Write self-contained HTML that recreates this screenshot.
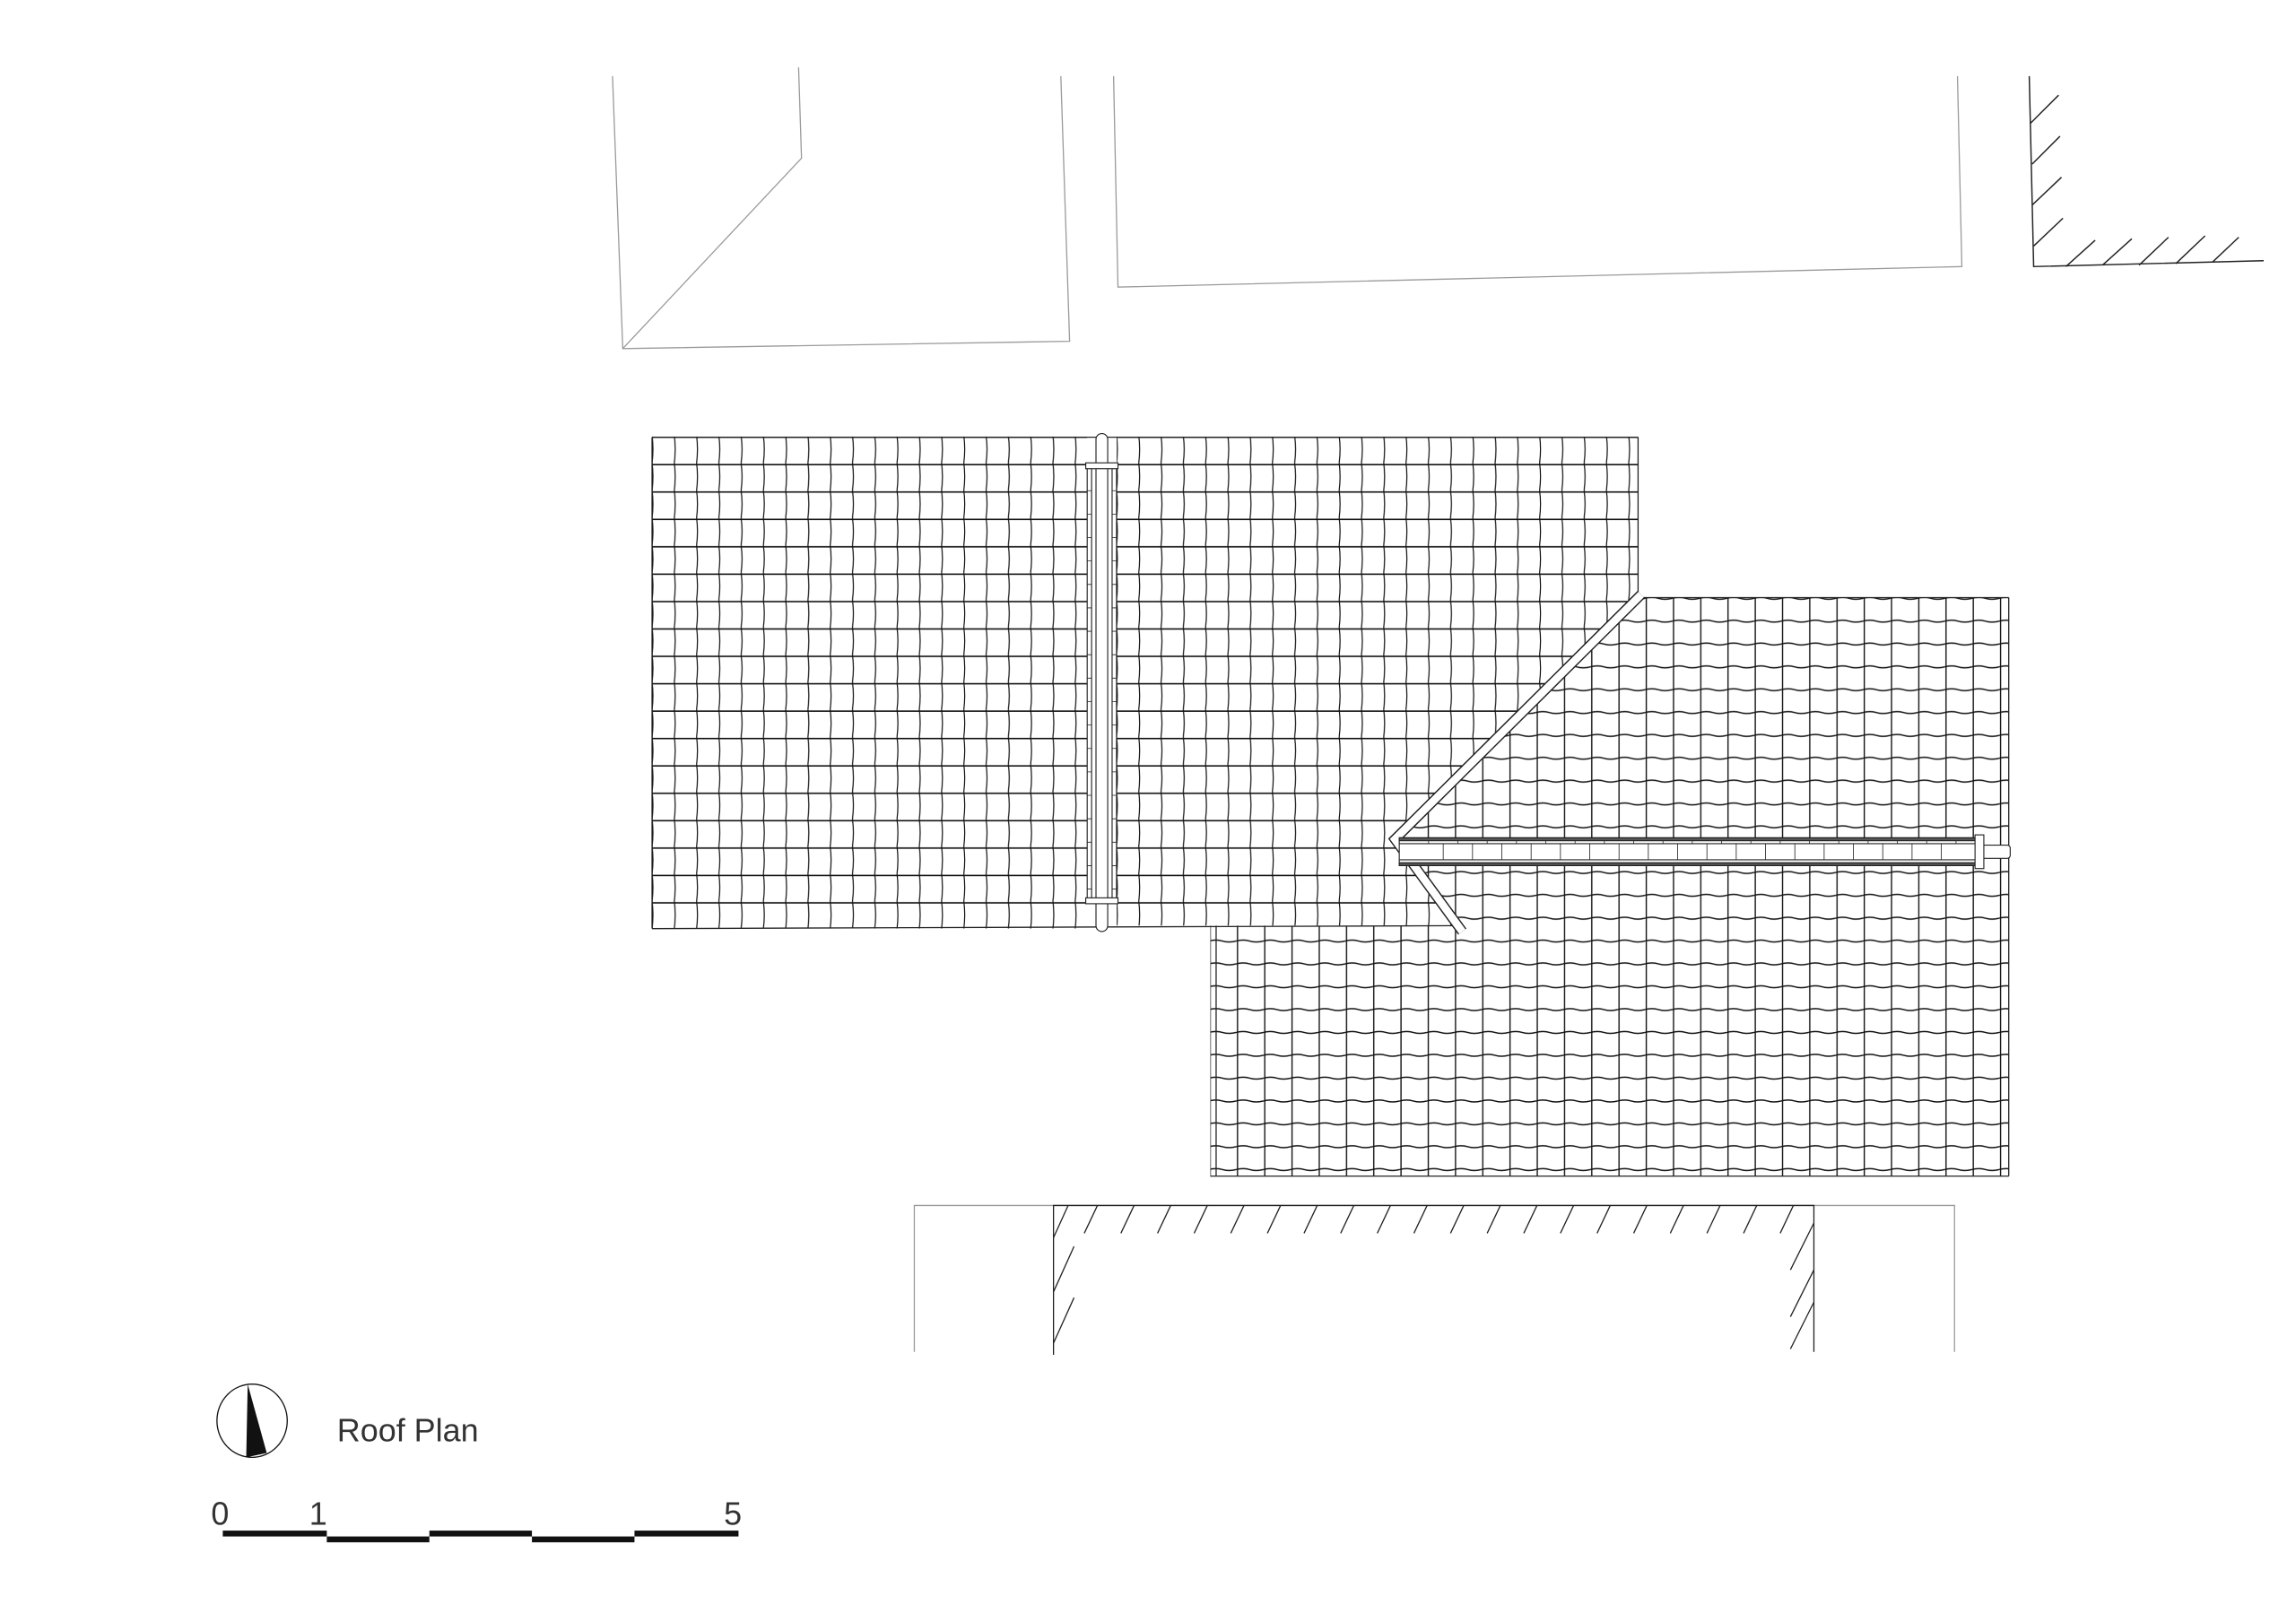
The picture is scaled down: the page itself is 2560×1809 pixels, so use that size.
<!DOCTYPE html>
<html><head><meta charset="utf-8"><style>
html,body{margin:0;padding:0;background:#fff;}
svg{display:block;}
text{font-family:"Liberation Sans",sans-serif;}
</style></head><body>
<svg width="2560" height="1809" viewBox="0 0 1567 1107.4" xmlns="http://www.w3.org/2000/svg">
<defs>
  <pattern id="tA" patternUnits="userSpaceOnUse" x="444" y="297.5" width="15.2" height="18.7">
    <path d="M1,0 Q2.2,9 1,18.7" fill="none" stroke="#111" stroke-width="0.75"/>
    <path d="M0,1 H15.2" stroke="#111" stroke-width="1"/>
  </pattern>
  <pattern id="tB" patternUnits="userSpaceOnUse" x="761" y="297.5" width="15.2" height="18.7">
    <path d="M1,0 Q2.2,9 1,18.7" fill="none" stroke="#111" stroke-width="0.75"/>
    <path d="M0,1 H15.2" stroke="#111" stroke-width="1"/>
  </pattern>
  <pattern id="tC" patternUnits="userSpaceOnUse" x="825" y="407" width="18.6" height="15.6">
    <path d="M1,0 V15.6" stroke="#111" stroke-width="0.85"/>
    <path d="M0,1.5 Q5,0.2 9.3,1.5 T18.6,1.5" fill="none" stroke="#111" stroke-width="0.9"/>
  </pattern>
  <clipPath id="cA"><rect x="445" y="298" width="297" height="336"/></clipPath>
  <clipPath id="cB"><polygon points="762,298 1118,298 1118,408 1120,408 952,575 998,632 762,632"/></clipPath>
  <clipPath id="cC"><polygon points="1120,408 1371,408 1371,803 826,803 826,632 998,632 952,575"/></clipPath>
</defs>

<g fill="none" stroke="#9a9a9a" stroke-width="0.8">
  <polyline points="418,52 425,238 730,233 724,52"/>
  <polyline points="545,46 547,108 425,238"/>
  <polyline points="760,52 763,196 1339,182 1336,52"/>
  <polyline points="624,923 624,823 1334,823 1334,923"/>
</g>

<g fill="none" stroke="#222" stroke-width="0.9">
  <polyline points="1385,52 1388,182 1545,178"/>
  <line x1="1386" y1="84" x2="1405" y2="65"/>
  <line x1="1387" y1="112" x2="1406" y2="93"/>
  <line x1="1387" y1="140" x2="1407" y2="121"/>
  <line x1="1388" y1="168" x2="1408" y2="149"/>
  <line x1="1410" y1="182" x2="1430" y2="164"/>
  <line x1="1435" y1="181" x2="1455" y2="163"/>
  <line x1="1460" y1="181" x2="1480" y2="162"/>
  <line x1="1485" y1="180" x2="1505" y2="161"/>
  <line x1="1510" y1="179" x2="1528" y2="162"/>
</g>

<g fill="none" stroke="#222" stroke-width="0.8">
  <polyline points="719,925 719,823 1238,823 1238,923"/>
  <line x1="719" y1="845" x2="729" y2="823"/>
  <line x1="719" y1="882" x2="733" y2="851"/>
  <line x1="719" y1="917" x2="733" y2="886"/>
  <line x1="1222" y1="867" x2="1238" y2="835"/>
  <line x1="1222" y1="899" x2="1238" y2="867"/>
  <line x1="1222" y1="921" x2="1238" y2="889"/>
</g>
<g stroke="#222" stroke-width="0.8">
  <line x1="740" y1="842" x2="749" y2="823"/>
  <line x1="765" y1="842" x2="774" y2="823"/>
  <line x1="790" y1="842" x2="799" y2="823"/>
  <line x1="815" y1="842" x2="824" y2="823"/>
  <line x1="840" y1="842" x2="849" y2="823"/>
  <line x1="865" y1="842" x2="874" y2="823"/>
  <line x1="890" y1="842" x2="899" y2="823"/>
  <line x1="915" y1="842" x2="924" y2="823"/>
  <line x1="940" y1="842" x2="949" y2="823"/>
  <line x1="965" y1="842" x2="974" y2="823"/>
  <line x1="990" y1="842" x2="999" y2="823"/>
  <line x1="1015" y1="842" x2="1024" y2="823"/>
  <line x1="1040" y1="842" x2="1049" y2="823"/>
  <line x1="1065" y1="842" x2="1074" y2="823"/>
  <line x1="1090" y1="842" x2="1099" y2="823"/>
  <line x1="1115" y1="842" x2="1124" y2="823"/>
  <line x1="1140" y1="842" x2="1149" y2="823"/>
  <line x1="1165" y1="842" x2="1174" y2="823"/>
  <line x1="1190" y1="842" x2="1199" y2="823"/>
  <line x1="1215" y1="842" x2="1224" y2="823"/>
</g>

<rect x="445" y="298" width="297" height="336" fill="url(#tA)" clip-path="url(#cA)"/>
<rect x="762" y="298" width="360" height="336" fill="url(#tB)" clip-path="url(#cB)"/>
<rect x="826" y="408" width="546" height="396" fill="url(#tC)" clip-path="url(#cC)"/>
<g fill="none" stroke="#222" stroke-width="0.8">
  <line x1="445" y1="298.5" x2="1118" y2="298.5"/>
  <line x1="445" y1="298.5" x2="445" y2="634"/>
  <line x1="445" y1="634" x2="998" y2="632"/>
  <line x1="1118" y1="298.5" x2="1118" y2="408"/>
  <line x1="1120" y1="408" x2="1371" y2="408"/>
  <line x1="1371" y1="408" x2="1371" y2="803"/>
  <line x1="826" y1="803" x2="1371" y2="803"/>
  <line x1="830" y1="632" x2="830" y2="803"/>
</g>

<g stroke="#222" stroke-width="0.7" fill="#fff">
  <rect x="742" y="318" width="20" height="297"/>
  <line x1="745" y1="318" x2="745" y2="615"/>
  <line x1="759" y1="318" x2="759" y2="615"/>
  <rect x="748" y="296" width="8" height="340" rx="4"/>
  <rect x="741" y="316" width="22" height="4"/>
  <rect x="741" y="613" width="22" height="4"/>
</g>
<g stroke="#222" stroke-width="0.5">
  <path d="M742,335H745M742,351H745M742,367H745M742,383H745M742,399H745M742,415H745M742,431H745M742,447H745M742,463H745M742,479H745M742,495H745M742,511H745M742,527H745M742,543H745M742,559H745M742,575H745M742,591H745M742,607H745"/>
  <path d="M759,335H762M759,351H762M759,367H762M759,383H762M759,399H762M759,415H762M759,431H762M759,447H762M759,463H762M759,479H762M759,495H762M759,511H762M759,527H762M759,543H762M759,559H762M759,575H762M759,591H762M759,607H762"/>
</g>

<polyline points="1120,406 952,573 998,636" fill="none" stroke="#222" stroke-width="7" stroke-linejoin="miter"/>
<polyline points="1120,406 952,573 998,636" fill="none" stroke="#fff" stroke-width="5.2" stroke-linejoin="miter"/>

<g stroke="#222" stroke-width="0.7" fill="#fff">
  <rect x="1350" y="577" width="22" height="9" rx="2"/>
  <rect x="955" y="572" width="395" height="19"/>
  <rect x="955" y="572" width="395" height="2" fill="#555"/>
  <rect x="955" y="589" width="395" height="2" fill="#555"/>
  <line x1="955" y1="576" x2="1350" y2="576"/>
  <line x1="955" y1="587" x2="1350" y2="587"/>
  <rect x="1348" y="570" width="6" height="23"/>
</g>
<g stroke="#222" stroke-width="0.5">
  <path d="M975,574V576M995,574V576M1015,574V576M1035,574V576M1055,574V576M1075,574V576M1095,574V576M1115,574V576M1135,574V576M1155,574V576M1175,574V576M1195,574V576M1215,574V576M1235,574V576M1255,574V576M1275,574V576M1295,574V576M1315,574V576M1335,574V576"/>
  <path d="M985,576V587M1005,576V587M1025,576V587M1045,576V587M1065,576V587M1085,576V587M1105,576V587M1125,576V587M1145,576V587M1165,576V587M1185,576V587M1205,576V587M1225,576V587M1245,576V587M1265,576V587M1285,576V587M1305,576V587M1325,576V587"/>
</g>

<ellipse cx="172" cy="970" rx="24" ry="25" fill="#fff" stroke="#111" stroke-width="0.8"/>
<polygon points="169,945 168,995 182,992" fill="#111"/>
<text x="230" y="984" font-size="22" fill="#333">Roof Plan</text>

<text x="144" y="1041" font-size="22" fill="#333">0</text>
<text x="211" y="1041" font-size="22" fill="#333">1</text>
<text x="494" y="1041" font-size="22" fill="#333">5</text>
<g fill="#111">
  <rect x="152" y="1045" width="71" height="4"/>
  <rect x="223" y="1049" width="70" height="4"/>
  <rect x="293" y="1045" width="70" height="4"/>
  <rect x="363" y="1049" width="70" height="4"/>
  <rect x="433" y="1045" width="71" height="4"/>
</g>
</svg>
</body></html>
